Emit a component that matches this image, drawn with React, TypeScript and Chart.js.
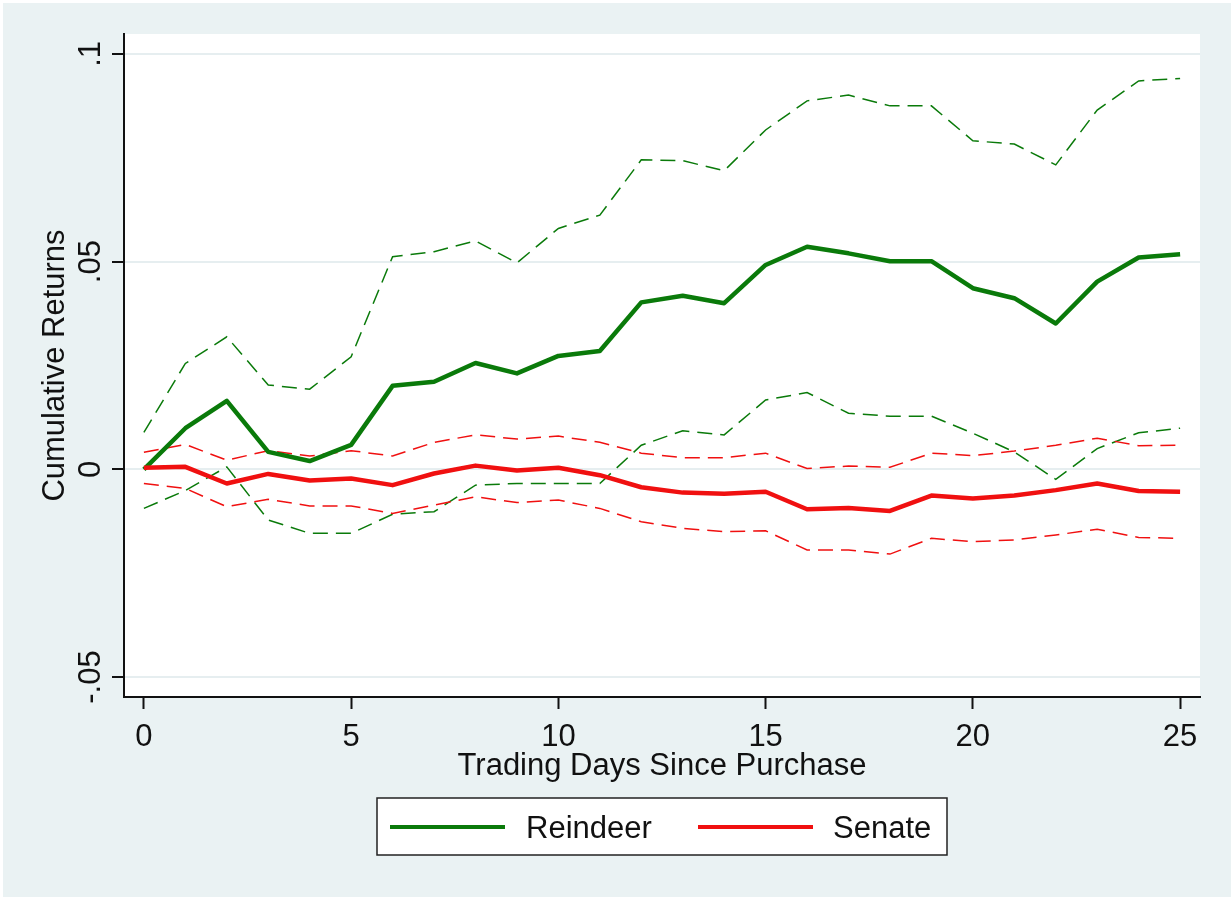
import React, { useEffect, useRef } from "react";
import { Chart, registerables } from "chart.js";

Chart.register(...registerables);

const days = [0, 1, 2, 3, 4, 5, 6, 7, 8, 9, 10, 11, 12, 13, 14, 15, 16, 17, 18, 19, 20, 21, 22, 23, 24, 25];

const reindeer = [0, 0.0099, 0.0165, 0.0042, 0.002, 0.0059, 0.0201, 0.0211, 0.0256, 0.0231, 0.0273, 0.0285, 0.0402, 0.0418, 0.04, 0.0492, 0.0536, 0.052, 0.0501, 0.0501, 0.0436, 0.0412, 0.0351, 0.0452, 0.051, 0.0518];
const reindeerUpper = [0.0089, 0.0255, 0.0319, 0.0203, 0.0193, 0.0271, 0.0512, 0.0524, 0.055, 0.0497, 0.058, 0.0612, 0.0745, 0.0743, 0.0719, 0.0817, 0.0887, 0.0901, 0.0875, 0.0875, 0.0791, 0.0783, 0.0733, 0.0865, 0.0935, 0.0941];
const reindeerLower = [-0.0094, -0.0051, 0.0006, -0.0122, -0.0154, -0.0154, -0.0108, -0.0102, -0.0038, -0.0034, -0.0034, -0.0034, 0.0058, 0.0093, 0.0083, 0.0167, 0.0185, 0.0135, 0.0128, 0.0128, 0.0087, 0.0042, -0.0024, 0.005, 0.0088, 0.0099];

const senate = [0.0004, 0.0006, -0.0034, -0.0011, -0.0027, -0.0022, -0.0038, -0.001, 0.0009, -0.0003, 0.0004, -0.0014, -0.0043, -0.0056, -0.0059, -0.0054, -0.0096, -0.0093, -0.01, -0.0063, -0.007, -0.0063, -0.005, -0.0034, -0.0052, -0.0054];
const senateUpper = [0.0041, 0.006, 0.0022, 0.0045, 0.0032, 0.0045, 0.0032, 0.0065, 0.0083, 0.0073, 0.008, 0.0065, 0.0039, 0.0028, 0.0028, 0.0039, 0.0002, 0.0008, 0.0005, 0.0039, 0.0033, 0.0044, 0.0058, 0.0075, 0.0057, 0.0058];
const senateLower = [-0.0034, -0.0046, -0.009, -0.0072, -0.0088, -0.0088, -0.0106, -0.0086, -0.0066, -0.008, -0.0074, -0.0094, -0.0126, -0.0142, -0.015, -0.0148, -0.0194, -0.0194, -0.0204, -0.0166, -0.0174, -0.017, -0.0158, -0.0144, -0.0164, -0.0166];

const xTickValues = [0, 5, 10, 15, 20, 25];
const xTickLabels = ["0", "5", "10", "15", "20", "25"];
const yTickValues = [-0.05, 0, 0.05, 0.1];
const yTickLabels = ["-.05", "0", ".05", ".1"];
const seriesNames = ["Reindeer", "Senate"];
const xTitle = "Trading Days Since Purchase";
const yTitle = "Cumulative Returns";

const GREEN = "#0a7a0a";
const RED = "#f01010";
const BG = "#eaf2f3";
const FONT = '31px "Liberation Sans", Arial, sans-serif';

const toPoints = (vals: number[]) => days.map((d, i) => ({ x: d, y: vals[i] }));

export default function App() {
  const ref = useRef<HTMLCanvasElement | null>(null);

  useEffect(() => {
    document.body.style.margin = "0";
    const canvas = ref.current;
    if (!canvas) return;

    const bgPlugin = {
      id: "stataBg",
      beforeDraw(chart: any) {
        const { ctx, chartArea } = chart;
        ctx.save();
        ctx.fillStyle = "#ffffff";
        ctx.fillRect(0, 0, chart.width, chart.height);
        ctx.fillStyle = BG;
        ctx.fillRect(3, 3, chart.width - 3, chart.height - 3);
        ctx.fillStyle = "#ffffff";
        ctx.fillRect(chartArea.left, chartArea.top, chartArea.right - chartArea.left, chartArea.bottom - chartArea.top);
        ctx.restore();
      },
    };

    const textPlugin = {
      id: "stataText",
      afterDraw(chart: any) {
        const { ctx, chartArea } = chart;
        const xs = chart.scales.x;
        const ys = chart.scales.y;
        ctx.save();
        ctx.fillStyle = "#111111";
        ctx.font = FONT;
        ctx.textAlign = "center";
        ctx.textBaseline = "alphabetic";
        // x tick labels
        xTickValues.forEach((v, i) => {
          ctx.fillText(xTickLabels[i], xs.getPixelForValue(v), 746);
        });
        // y tick labels (rotated)
        yTickValues.forEach((v, i) => {
          ctx.save();
          ctx.translate(100, ys.getPixelForValue(v));
          ctx.rotate(-Math.PI / 2);
          ctx.fillText(yTickLabels[i], 0, 0);
          ctx.restore();
        });
        // x title
        ctx.fillText(xTitle, (chartArea.left + chartArea.right) / 2, 775);
        // y title
        ctx.save();
        ctx.translate(64, (chartArea.top + chartArea.bottom) / 2);
        ctx.rotate(-Math.PI / 2);
        ctx.fillText(yTitle, 0, 0);
        ctx.restore();

        // legend
        const bx = 377, by = 798, bw = 570, bh = 57;
        ctx.fillStyle = "#ffffff";
        ctx.fillRect(bx, by, bw, bh);
        ctx.strokeStyle = "#222222";
        ctx.lineWidth = 1.5;
        ctx.strokeRect(bx, by, bw, bh);
        const ly = 827;
        const items = [
          { color: GREEN, x1: 390, x2: 505, tx: 526, label: seriesNames[0] },
          { color: RED, x1: 698, x2: 813, tx: 833, label: seriesNames[1] },
        ];
        items.forEach((it) => {
          ctx.strokeStyle = it.color;
          ctx.lineWidth = 4;
          ctx.beginPath();
          ctx.moveTo(it.x1, ly);
          ctx.lineTo(it.x2, ly);
          ctx.stroke();
          ctx.fillStyle = "#111111";
          ctx.textAlign = "left";
          ctx.fillText(it.label, it.tx, 838);
        });
        ctx.restore();
      },
    };

    const dashed = (label: string, vals: number[], color: string, order: number) => ({
      label,
      data: toPoints(vals),
      borderColor: color,
      borderWidth: 1.5,
      borderDash: [15, 8],
      pointRadius: 0,
      tension: 0,
      fill: false,
      order,
    });

    const chart = new Chart(canvas, {
      type: "line",
      data: {
        datasets: [
          { label: seriesNames[0], data: toPoints(reindeer), borderColor: GREEN, borderWidth: 4.5, pointRadius: 0, tension: 0, fill: false, order: 1, borderJoinStyle: "round" },
          { label: seriesNames[1], data: toPoints(senate), borderColor: RED, borderWidth: 4.5, pointRadius: 0, tension: 0, fill: false, order: 0, borderJoinStyle: "round" },
          dashed("Reindeer upper", reindeerUpper, GREEN, 3),
          dashed("Reindeer lower", reindeerLower, GREEN, 3),
          dashed("Senate upper", senateUpper, RED, 2),
          dashed("Senate lower", senateLower, RED, 2),
        ],
      } as any,
      options: {
        responsive: false,
        animation: false,
        devicePixelRatio: 1,
        layout: { padding: { left: 112, right: 31, top: 34, bottom: 188 } },
        plugins: { legend: { display: false }, tooltip: { enabled: false } },
        scales: {
          x: {
            type: "linear",
            min: -0.48,
            max: 25.48,
            afterBuildTicks: (s: any) => {
              s.ticks = xTickValues.map((v) => ({ value: v }));
            },
            ticks: { display: false },
            grid: { drawOnChartArea: false, drawTicks: true, tickLength: 12, tickColor: "#111", tickWidth: 2, color: "#111" },
            border: { display: true, color: "#111", width: 2 },
          },
          y: {
            type: "linear",
            min: -0.0548,
            max: 0.1048,
            afterBuildTicks: (s: any) => {
              s.ticks = yTickValues.map((v) => ({ value: v }));
            },
            ticks: { display: false },
            grid: { drawOnChartArea: true, drawTicks: true, tickLength: 12, tickColor: "#111", tickWidth: 2, color: "#e6eef0", lineWidth: 2 },
            border: { display: true, color: "#111", width: 2 },
          },
        },
      } as any,
      plugins: [bgPlugin, textPlugin],
    });

    return () => chart.destroy();
  }, []);

  return (
    <div style={{ width: 1231, height: 897 }}>
      <canvas ref={ref} width={1231} height={897} style={{ display: "block" }} />
    </div>
  );
}
